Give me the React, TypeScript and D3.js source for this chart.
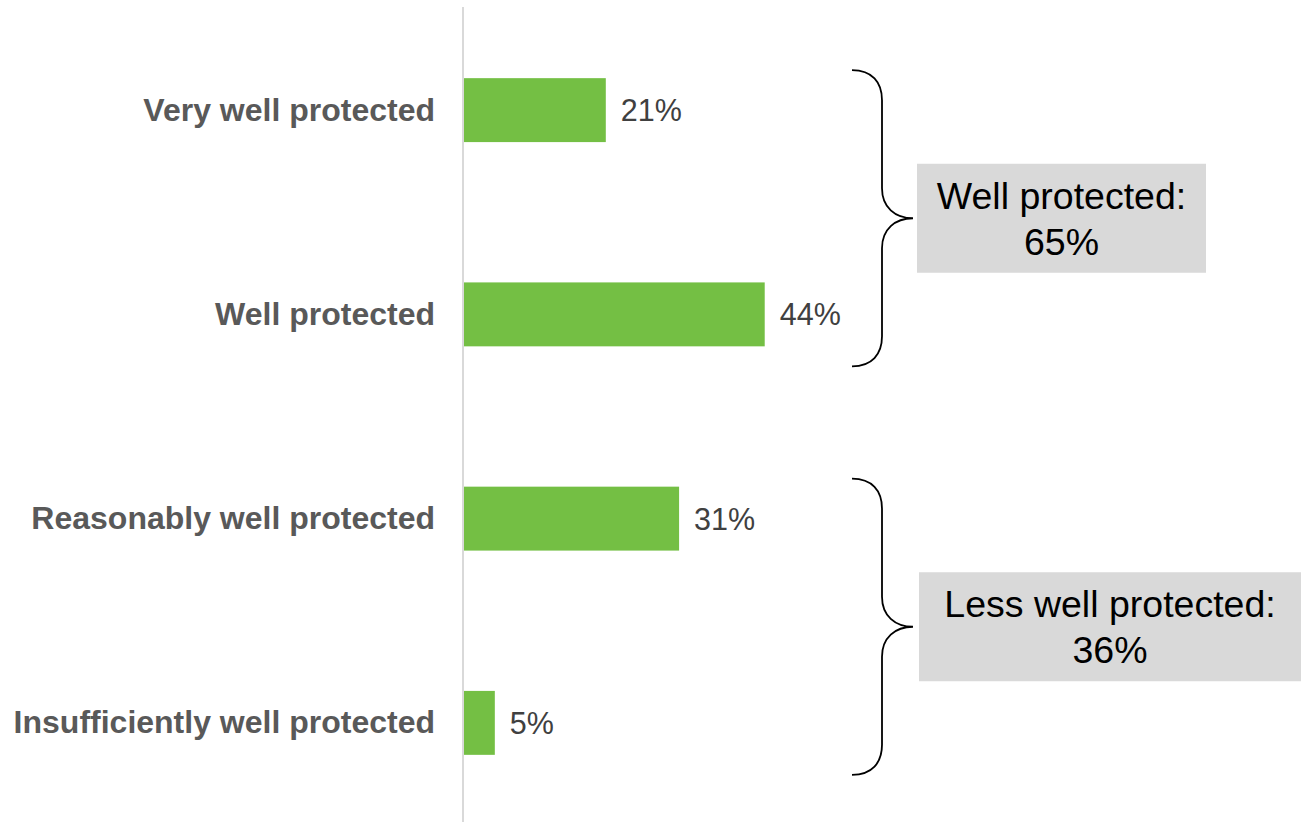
import React from "react";
import * as d3 from "d3";

const categories = [
  "Very well protected",
  "Well protected",
  "Reasonably well protected",
  "Insufficiently well protected",
];
const values = [20.7, 43.9, 31.4, 4.5];
const valueLabels = ["21%", "44%", "31%", "5%"];

const groupNames = ["Well protected:", "Less well protected:"];
const groupTotals = ["65%", "36%"];
const groupMembers = [
  [0, 1],
  [2, 3],
];

const W = 1301;
const H = 822;
const FONT = "'Liberation Sans', Arial, Helvetica, sans-serif";

export default function App() {
  const x = d3.scaleLinear().domain([0, 100]).range([464, 464 + 685]);
  const y = d3
    .scaleBand<string>()
    .domain(categories)
    .range([8, 825])
    .paddingInner(0.687)
    .paddingOuter(0.3435);
  const bw = y.bandwidth();

  const braces = groupMembers.map((m, i) => {
    const top = (y(categories[m[0]]) as number) - 8;
    const bot = (y(categories[m[m.length - 1]]) as number) + bw + 20;
    const mid = (top + bot) / 2;
    const x0 = 852;
    const xv = 882;
    const xt = 913;
    const r = 30;
    const p = d3.path();
    p.moveTo(x0, top);
    p.bezierCurveTo(x0 + 20, top, xv, top + 12, xv, top + r);
    p.lineTo(xv, mid - r);
    p.bezierCurveTo(xv, mid - 11, xv + 13, mid, xt, mid);
    p.bezierCurveTo(xv + 13, mid, xv, mid + 11, xv, mid + r);
    p.lineTo(xv, bot - r);
    p.bezierCurveTo(xv, bot - 12, x0 + 20, bot, x0, bot);
    return { d: p.toString(), mid, i };
  });

  const boxes = [
    { x0: 917, x1: 1206 },
    { x0: 919, x1: 1301 },
  ];

  return (
    <svg
      width={W}
      height={H}
      style={{ position: "absolute", left: 0, top: 0, background: "#fff" }}
      fontFamily={FONT}
    >
      <line x1={463} x2={463} y1={7} y2={H} stroke="#d9d9d9" strokeWidth={2} />
      {categories.map((c, i) => {
        const yy = y(c) as number;
        const cy = yy + bw / 2;
        return (
          <g key={c}>
            <rect
              x={x(0)}
              y={yy}
              width={x(values[i]) - x(0)}
              height={bw}
              fill="#74bf44"
            />
            <text
              x={435}
              y={cy + 10.5}
              textAnchor="end"
              fontSize={32}
              fontWeight="bold"
              fill="#595959"
            >
              {c}
            </text>
            <text x={x(values[i]) + 15} y={cy + 11} fontSize={30.5} fill="#404040">
              {valueLabels[i]}
            </text>
          </g>
        );
      })}
      {braces.map((b) => (
        <path key={b.i} d={b.d} fill="none" stroke="#000" strokeWidth={1.8} />
      ))}
      {braces.map((b) => {
        const bx = boxes[b.i];
        const cx = (bx.x0 + bx.x1) / 2;
        const top = b.mid - 54.5;
        return (
          <g key={"box" + b.i}>
            <rect x={bx.x0} y={top} width={bx.x1 - bx.x0} height={109} fill="#d9d9d9" />
            <text x={cx} y={top + 45} textAnchor="middle" fontSize={37.5} fill="#000">
              {groupNames[b.i]}
            </text>
            <text x={cx} y={top + 91} textAnchor="middle" fontSize={37.5} fill="#000">
              {groupTotals[b.i]}
            </text>
          </g>
        );
      })}
    </svg>
  );
}
